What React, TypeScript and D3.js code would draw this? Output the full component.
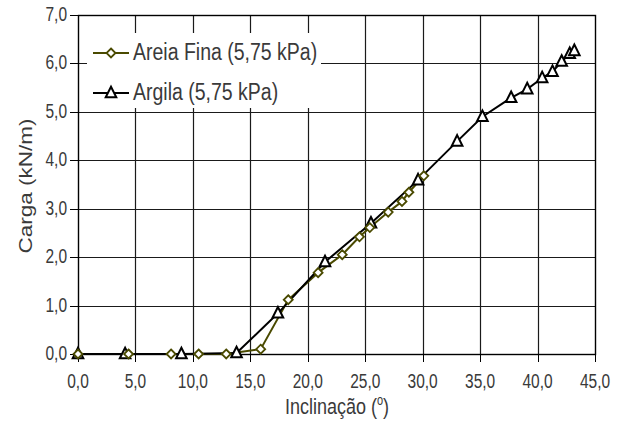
import React from 'react';
import * as d3 from 'd3';

// values
const xTicks = [0, 5, 10, 15, 20, 25, 30, 35, 40, 45];
const yTicks = [0, 1, 2, 3, 4, 5, 6, 7];

const areiaX = [0, 4.4, 8.1, 10.5, 12.9, 15.9, 18.3, 20.9, 23.0, 24.5, 25.4, 27.0, 28.2, 28.8, 30.1];
const areiaY = [0, 0, 0, 0, 0, 0.1, 1.12, 1.68, 2.05, 2.42, 2.61, 2.93, 3.15, 3.34, 3.68];

const argilaX = [0, 4.1, 9.0, 13.8, 17.4, 21.5, 25.5, 29.6, 33.0, 35.2, 37.7, 39.1, 40.4, 41.3, 42.1, 42.8, 43.2];
const argilaY = [0, 0, 0, 0.02, 0.84, 1.9, 2.7, 3.59, 4.39, 4.9, 5.29, 5.47, 5.7, 5.83, 6.04, 6.2, 6.26];

const seriesNames = ['Areia Fina (5,75 kPa)', 'Argila (5,75 kPa)'];
const olive = '#4a4a00';
const font = 'Arial, "Liberation Sans", sans-serif';
const SY = 1.25; // the picture's text looks stretched upward

const fmt = (v: number) => v.toFixed(1).replace('.', ',');

function STxt(props: any) {
  const {x, y, rot, size, anchor, fill, children} = props;
  return (
    <g transform={`translate(${x},${y}) scale(1,${SY})${rot ? ` rotate(${rot})` : ''}`}>
      <text x={0} y={0} fontSize={size} textAnchor={anchor || 'start'} fill={fill || '#3a3a3a'} fontFamily={font}>
        {children}
      </text>
    </g>
  );
}

function Diamond({x, y}: {x: number; y: number}) {
  const s = 4.5;
  return <path d={`M${x},${y - s}L${x + s},${y}L${x},${y + s}L${x - s},${y}Z`} fill="#fff" stroke={olive} strokeWidth={1.8} />;
}

function Tri({x, y}: {x: number; y: number}) {
  const s = 5.3;
  return <path d={`M${x},${y - s - 1}L${x + s},${y + s - 1}L${x - s},${y + s - 1}Z`} fill="#fff" stroke="#000" strokeWidth={2} />;
}

export default function App() {
  const W = 627, H = 423;
  const x = d3.scaleLinear().domain([0, 45]).range([78, 595]);
  const y = d3.scaleLinear().domain([0, 7]).range([354, 15]);

  const areia = areiaX.map((v, i) => [v, areiaY[i]] as [number, number]);
  const argila = argilaX.map((v, i) => [v, argilaY[i]] as [number, number]);
  const line = d3.line<[number, number]>().x(d => x(d[0])).y(d => y(d[1]));

  return (
    <svg width={W} height={H} style={{position: 'absolute', left: 0, top: 0, background: '#fff'}}>
      {/* grid */}
      {yTicks.slice(1, -1).map(t => (
        <line key={'gy' + t} x1={x(0)} x2={x(45)} y1={Math.round(y(t)) + 0.5} y2={Math.round(y(t)) + 0.5} stroke="#1a1a1a" strokeWidth={1.2} />
      ))}
      {xTicks.slice(1, -1).map(t => (
        <line key={'gx' + t} x1={Math.round(x(t)) + 0.5} x2={Math.round(x(t)) + 0.5} y1={y(7)} y2={y(0)} stroke="#1a1a1a" strokeWidth={1.2} />
      ))}
      {/* legend box hides the grid */}
      <rect x={87} y={33} width={234} height={75} fill="#fff" />
      {/* frame */}
      <rect x={78.5} y={15.5} width={517} height={339} fill="none" stroke="#000" strokeWidth={1.4} />
      {/* ticks */}
      {yTicks.map(t => (
        <g key={'ty' + t}>
          <line x1={70} x2={78} y1={Math.round(y(t)) + 0.5} y2={Math.round(y(t)) + 0.5} stroke="#000" />
          <STxt x={67} y={y(t) + 6} size={15.5} anchor="end">{fmt(t)}</STxt>
        </g>
      ))}
      {xTicks.map(t => (
        <g key={'tx' + t}>
          <line x1={Math.round(x(t)) + 0.5} x2={Math.round(x(t)) + 0.5} y1={354} y2={362} stroke="#000" />
          <STxt x={x(t)} y={388} size={15.5} anchor="middle">{fmt(t)}</STxt>
        </g>
      ))}
      {/* axis titles */}
      <STxt x={32} y={186} size={18} anchor="middle" rot={-90}>Carga (kN/m)</STxt>
      <g transform={`translate(337,414) scale(1,${SY})`}>
        <text x={0} y={0} fontSize={18} textAnchor="middle" fill="#3a3a3a" fontFamily={font}>
          Inclinação (<tspan fontSize={11} dy={-7}>o</tspan><tspan dy={7}>)</tspan>
        </text>
      </g>
      {/* series */}
      <path d={line(areia) || ''} fill="none" stroke={olive} strokeWidth={2} />
      <path d={line(argila) || ''} fill="none" stroke="#000" strokeWidth={2} />
      {argila.map((d, i) => <Tri key={'a' + i} x={x(d[0])} y={y(d[1])} />)}
      {areia.map((d, i) => <Diamond key={'d' + i} x={x(d[0])} y={y(d[1])} />)}
      {/* legend */}
      <line x1={93} x2={129} y1={53} y2={53} stroke={olive} strokeWidth={2} />
      <Diamond x={111} y={53} />
      <STxt x={133} y={60} size={19.5}>{seriesNames[0]}</STxt>
      <line x1={93} x2={129} y1={93} y2={93} stroke="#000" strokeWidth={2} />
      <Tri x={111} y={93} />
      <STxt x={133} y={100} size={19.5}>{seriesNames[1]}</STxt>
    </svg>
  );
}
